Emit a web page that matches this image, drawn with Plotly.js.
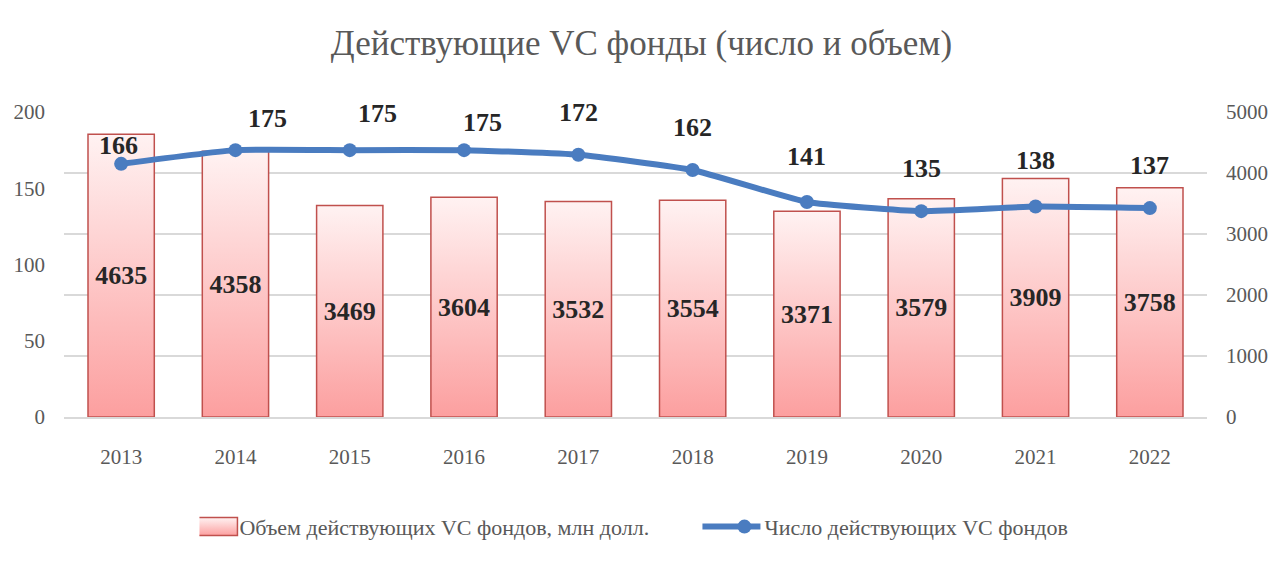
<!DOCTYPE html>
<html>
<head>
<meta charset="utf-8">
<script src="https://cdn.plot.ly/plotly-3.0.1.min.js"></script>
<style>
  html, body { margin: 0; padding: 0; background: #ffffff; }
  #chart { width: 1283px; height: 565px; }
</style>
</head>
<body>
<div id="chart"></div>
<script>
(function () {
  "use strict";

  var YEARS = ["2013", "2014", "2015", "2016", "2017", "2018", "2019", "2020", "2021", "2022"];
  var VOLUME = [4635, 4358, 3469, 3604, 3532, 3554, 3371, 3579, 3909, 3758];
  var COUNT = [166, 175, 175, 175, 172, 162, 141, 135, 138, 137];

  var VOLUME_NAME = "Объем действующих VC фондов, млн долл.";
  var COUNT_NAME = "Число действующих VC фондов";
  var TITLE = "Действующие VC фонды (число и объем)";

  /* Label offsets for the line labels, px [dx, dy] (Excel places them unevenly) */
  var LINE_LABEL_SHIFT = [
    [-3, 18], [32, 32], [28, 37], [18, 28], [0, 42],
    [0, 42], [0, 45], [0, 43], [0, 46], [0, 43]
  ];

  var FONT = "'Liberation Serif', 'DejaVu Serif', serif";
  var GRAY = "#595959";
  var DARK = "#262626";
  var BLUE = "#4a7cc0";

  var traces = [
    {
      x: YEARS,
      y: VOLUME,
      type: "bar",
      name: VOLUME_NAME,
      marker: {
        color: "#fcc4c4",
        line: { color: "#c0504d", width: 1.5 }
      },
      text: VOLUME.map(String),
      textposition: "inside",
      insidetextanchor: "middle",
      textangle: 0,
      constraintext: "none",
      textfont: { family: FONT, size: 26, color: DARK, weight: "bold" }
    },
    {
      x: YEARS,
      y: COUNT,
      type: "scatter",
      mode: "lines+markers",
      name: COUNT_NAME,
      yaxis: "y2",
      line: { color: BLUE, width: 6, shape: "spline", smoothing: 0.4 },
      marker: { color: BLUE, size: 14 }
    }
  ];

  /* on a category axis the annotation x is the category index */
  var annotations = COUNT.map(function (v, i) {
    return {
      x: i,
      y: v,
      xref: "x",
      yref: "y2",
      text: String(v),
      showarrow: false,
      xanchor: "center",
      yanchor: "middle",
      xshift: LINE_LABEL_SHIFT[i][0],
      yshift: LINE_LABEL_SHIFT[i][1],
      font: { family: FONT, size: 26, color: DARK, weight: "bold" }
    };
  });

  var layout = {
    width: 1283,
    height: 565,
    paper_bgcolor: "#ffffff",
    plot_bgcolor: "#ffffff",
    font: { family: FONT, color: GRAY },
    title: {
      text: TITLE,
      font: { family: FONT, size: 35, color: GRAY },
      x: 0.5,
      xanchor: "center",
      y: 0.925,
      yanchor: "middle"
    },
    margin: { l: 64, r: 76, t: 112, b: 148 },
    bargap: 0.42,
    showlegend: true,
    legend: {
      orientation: "h",
      x: 0.1185,
      xanchor: "left",
      y: -0.36,
      yanchor: "middle",
      entrywidth: 480,
      font: { family: FONT, size: 22, color: GRAY }
    },
    xaxis: {
      type: "category",
      categoryorder: "array",
      categoryarray: YEARS,
      range: [-0.5, YEARS.length - 0.5],
      tickfont: { family: FONT, size: 21, color: GRAY },
      showgrid: false,
      showline: true,
      linecolor: "#d9d9d9",
      linewidth: 1.5,
      ticks: "",
      ticklabelstandoff: 20
    },
    yaxis: {
      side: "right",
      range: [0, 5000],
      dtick: 1000,
      showgrid: true,
      gridcolor: "#d9d9d9",
      gridwidth: 1.5,
      zeroline: false,
      tickfont: { family: FONT, size: 21, color: GRAY },
      ticks: "",
      ticklabelstandoff: 18
    },
    yaxis2: {
      overlaying: "y",
      side: "left",
      range: [0, 200],
      dtick: 50,
      showgrid: false,
      zeroline: false,
      tickfont: { family: FONT, size: 21, color: GRAY },
      ticks: "",
      ticklabelstandoff: 18
    },
    annotations: annotations
  };

  var config = { displayModeBar: false, staticPlot: true };

  function applyGradient(gd) {
    var svg = gd.querySelector(".main-svg");
    if (!svg) return;
    var ns = "http://www.w3.org/2000/svg";
    var defs = svg.querySelector("defs");
    if (!defs) {
      defs = document.createElementNS(ns, "defs");
      svg.insertBefore(defs, svg.firstChild);
    }
    var grad = document.createElementNS(ns, "linearGradient");
    grad.setAttribute("id", "barGrad");
    grad.setAttribute("x1", "0");
    grad.setAttribute("y1", "0");
    grad.setAttribute("x2", "0");
    grad.setAttribute("y2", "1");
    [["0", "#fff2f2"], ["1", "#fc9f9f"]].forEach(function (s) {
      var stop = document.createElementNS(ns, "stop");
      stop.setAttribute("offset", s[0]);
      stop.setAttribute("stop-color", s[1]);
      grad.appendChild(stop);
    });
    defs.appendChild(grad);

    gd.querySelectorAll(".barlayer .point path").forEach(function (p) {
      p.style.fill = "url(#barGrad)";
    });

    /* legend: wider bar swatch, longer line swatch, like the original */
    var items = gd.querySelectorAll(".legend .traces");
    if (items[0]) {
      items[0].querySelectorAll(".legendpoints path").forEach(function (p) {
        p.setAttribute("d", "M18,9H-27V-9H18Z");
        p.style.fill = "url(#barGrad)";
        p.style.stroke = "#c0504d";
        p.style.strokeWidth = "1.5px";
      });
    }
    if (items[1]) {
      items[1].querySelectorAll(".legendlines path").forEach(function (p) {
        p.setAttribute("d", "M-22,0h58");
      });
    }
  }

  var gd = document.getElementById("chart");
  Plotly.newPlot(gd, traces, layout, config).then(function () {
    applyGradient(gd);
  });
})();
</script>
</body>
</html>
